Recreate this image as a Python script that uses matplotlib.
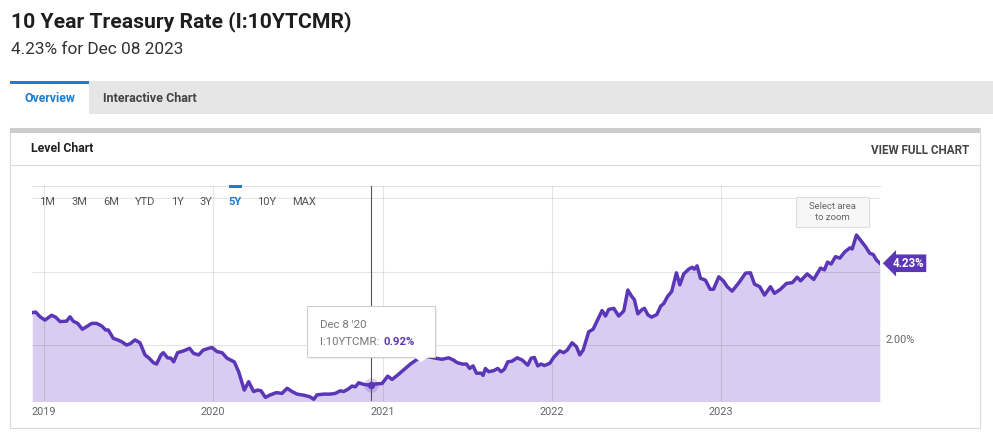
import matplotlib.pyplot as plt
import matplotlib.patches as mpatches
import numpy as np
import pandas as pd

plt.rcParams['font.family'] = ['Roboto', 'DejaVu Sans']

W, H = 993, 442

# 10 year treasury rate (%); time as decimal years
years = [2018.933, 2018.953, 2018.979, 2019.008, 2019.047, 2019.071, 2019.097, 2019.136,
         2019.156, 2019.175, 2019.201, 2019.229, 2019.254, 2019.284, 2019.313, 2019.343,
         2019.366, 2019.382, 2019.412, 2019.437, 2019.461, 2019.490, 2019.510, 2019.540,
         2019.569, 2019.599, 2019.623, 2019.648, 2019.667, 2019.693, 2019.707, 2019.732,
         2019.752, 2019.768, 2019.791, 2019.827, 2019.862, 2019.886, 2019.916, 2019.942,
         2019.975, 2019.995, 2020.024, 2020.054, 2020.083, 2020.126, 2020.152, 2020.185,
         2020.211, 2020.240, 2020.264, 2020.284, 2020.310, 2020.339, 2020.374, 2020.408,
         2020.438, 2020.467, 2020.497, 2020.536, 2020.571, 2020.595, 2020.615, 2020.654,
         2020.693, 2020.723, 2020.752, 2020.772, 2020.796, 2020.822, 2020.841, 2020.861,
         2020.887, 2020.914, 2020.937, 2020.969, 2020.999, 2021.032, 2021.058, 2021.091,
         2021.131, 2021.166, 2021.206, 2021.255, 2021.314, 2021.353, 2021.392, 2021.420,
         2021.442, 2021.471, 2021.497, 2021.516, 2021.536, 2021.556, 2021.584, 2021.595,
         2021.609, 2021.628, 2021.658, 2021.682, 2021.702, 2021.721, 2021.741, 2021.767,
         2021.796, 2021.826, 2021.859, 2021.879, 2021.898, 2021.918, 2021.938, 2021.957,
         2021.989, 2022.012, 2022.048, 2022.071, 2022.092, 2022.121, 2022.147, 2022.166,
         2022.186, 2022.219, 2022.245, 2022.271, 2022.298, 2022.318, 2022.337, 2022.367,
         2022.396, 2022.426, 2022.450, 2022.468, 2022.489, 2022.509, 2022.535, 2022.548,
         2022.569, 2022.590, 2022.621, 2022.644, 2022.662, 2022.684, 2022.709, 2022.737,
         2022.757, 2022.780, 2022.810, 2022.830, 2022.843, 2022.859, 2022.879, 2022.908,
         2022.936, 2022.956, 2022.987, 2023.014, 2023.037, 2023.066, 2023.109, 2023.145,
         2023.174, 2023.198, 2023.229, 2023.257, 2023.292, 2023.316, 2023.351, 2023.387,
         2023.421, 2023.450, 2023.470, 2023.509, 2023.548, 2023.588, 2023.611, 2023.629,
         2023.651, 2023.676, 2023.702, 2023.729, 2023.761, 2023.775, 2023.800, 2023.824,
         2023.854, 2023.879, 2023.899, 2023.918, 2023.938]
rates = [2.88, 2.90, 2.77, 2.68, 2.81, 2.76, 2.64, 2.65,
         2.77, 2.65, 2.59, 2.43, 2.50, 2.59, 2.59, 2.52,
         2.41, 2.41, 2.18, 2.14, 2.09, 2.00, 2.03, 2.14,
         2.06, 1.73, 1.64, 1.52, 1.48, 1.73, 1.79, 1.65,
         1.64, 1.54, 1.79, 1.84, 1.91, 1.77, 1.73, 1.86,
         1.91, 1.93, 1.82, 1.79, 1.64, 1.54, 1.27, 0.77,
         1.00, 0.73, 0.77, 0.75, 0.57, 0.64, 0.70, 0.68,
         0.82, 0.73, 0.66, 0.63, 0.59, 0.52, 0.64, 0.66,
         0.66, 0.68, 0.75, 0.73, 0.79, 0.88, 0.86, 0.97,
         0.93, 0.91, 0.92, 0.94, 0.95, 1.15, 1.06, 1.18,
         1.34, 1.48, 1.61, 1.70, 1.64, 1.61, 1.65, 1.59,
         1.52, 1.48, 1.48, 1.36, 1.43, 1.23, 1.23, 1.17,
         1.36, 1.27, 1.30, 1.36, 1.27, 1.34, 1.54, 1.56,
         1.65, 1.59, 1.45, 1.64, 1.66, 1.43, 1.48, 1.44,
         1.50, 1.66, 1.84, 1.79, 1.86, 2.06, 1.95, 1.73,
         1.86, 2.36, 2.43, 2.68, 2.94, 2.79, 2.97, 3.00,
         2.79, 2.93, 3.50, 3.36, 3.23, 2.85, 2.97, 3.00,
         2.82, 2.76, 2.83, 3.06, 3.13, 3.32, 3.46, 3.97,
         3.64, 3.94, 4.07, 4.12, 4.07, 4.16, 3.82, 3.77,
         3.52, 3.52, 3.86, 3.75, 3.59, 3.47, 3.72, 3.96,
         3.97, 3.66, 3.59, 3.36, 3.59, 3.41, 3.52, 3.68,
         3.70, 3.85, 3.75, 3.94, 3.79, 4.10, 4.05, 4.26,
         4.21, 4.41, 4.37, 4.53, 4.65, 4.62, 5.00, 4.86,
         4.68, 4.50, 4.47, 4.32, 4.23]

year_ticks = [2019, 2020, 2021, 2022, 2023]
grid_rates = [2, 4, 6]
rate_labels = ['2.00%', '', '']
hover_date = '2020-12-08'
hover_rate = 0.92
last_rate = 4.23
ranges = ['1M', '3M', '6M', 'YTD', '1Y', '3Y', '5Y', '10Y', 'MAX']
active_range = '5Y'

LINE = '#5b37b7'
FILL = '#d8cdf0'
BLUE = '#1f7ccf'


def to_dates(yrs):
    yrs = np.asarray(yrs, dtype=float)
    return pd.Timestamp('2019-01-01') + pd.to_timedelta((yrs - 2019) * 365.25, unit='D')


dates = to_dates(years)

fig = plt.figure(figsize=(W / 100, H / 100), dpi=100)

# page furniture in pixel coordinates
bg = fig.add_axes([0, 0, 1, 1])
bg.set_xlim(0, W)
bg.set_ylim(H, 0)
bg.axis('off')

bg.text(11, 22, '10 Year Treasury Rate (I:10YTCMR)', fontsize=15.2, fontweight='bold',
        color='#1e1e1e', va='center', ha='left')
bg.text(11, 50, '4.23% for Dec 08 2023', fontsize=12.4, color='#333333', va='center', ha='left')

bg.add_patch(mpatches.Rectangle((10, 81), W - 10, 33, fc='#e6e6e6', ec='none'))
bg.add_patch(mpatches.Rectangle((10, 84), 79, 30, fc='white', ec='none'))
bg.add_patch(mpatches.Rectangle((10, 81), 79, 3, fc=BLUE, ec='none'))
bg.text(49.5, 98, 'Overview', fontsize=8.8, fontweight='bold', color=BLUE, ha='center', va='center')
bg.text(103, 98, 'Interactive Chart', fontsize=9, fontweight='bold', color='#444444',
        ha='left', va='center')

bg.add_patch(mpatches.Rectangle((10, 128), 970, 300, fc='white', ec='#d9d9d9', lw=0.8))
bg.add_patch(mpatches.Rectangle((10, 128), 970, 5, fc='#cccccc', ec='none'))
bg.plot([10, 980], [165, 165], color='#d9d9d9', lw=0.8)
bg.text(31, 149, 'Level Chart', fontsize=8.8, fontweight='bold', color='#222222', ha='left', va='center')
bg.text(969, 151, 'VIEW FULL CHART', fontsize=8.4, fontweight='bold', color='#444444',
        ha='right', va='center')

# chart area
L, R, T, B = 32, 880, 186, 401
ax = fig.add_axes([L / W, 1 - B / H, (R - L) / W, (B - T) / H])
ax.set_facecolor('none')
ax.fill_between(dates, rates, 0, color=FILL, lw=0, zorder=1)
ax.plot(dates, rates, color=LINE, lw=2.5, solid_joinstyle='round', zorder=4)

ax.set_xlim(pd.Timestamp('2018-12-07'), pd.Timestamp('2023-12-10'))
ax.set_ylim(0.472, 6.338)

tick_dates = [pd.Timestamp(f'{y}-01-01') for y in year_ticks]
ax.set_xticks(tick_dates)
ax.set_xticklabels([str(y) for y in year_ticks])
ax.set_yticks(grid_rates)
ax.set_yticklabels(rate_labels)
ax.yaxis.tick_right()
ax.tick_params(axis='both', length=0, labelsize=7.8, labelcolor='#666666')
ax.tick_params(axis='x', pad=4)
ax.tick_params(axis='y', pad=4)
for lbl in ax.get_yticklabels():
    lbl.set_va('bottom')
ax.grid(True, color='black', alpha=0.1, lw=0.8, zorder=2)
ax.set_axisbelow(False)
for side in ['left', 'right', 'bottom']:
    ax.spines[side].set_visible(False)
ax.spines['top'].set_color('#e2e2e2')
ax.spines['top'].set_linewidth(0.8)

hd = pd.Timestamp(hover_date)
ax.axvline(hd, color='#555555', lw=0.8, zorder=3)
ax.scatter([hd], [hover_rate], s=110, color=LINE, alpha=0.22, lw=0, zorder=5)
ax.scatter([hd], [hover_rate], s=28, color=LINE, lw=0, zorder=6)

ax.annotate(f'{last_rate:.2f}%', xy=(dates[-1], last_rate), xytext=(9, 0),
            textcoords='offset points', ha='left', va='center', fontsize=8.3,
            fontweight='bold', color='white', annotation_clip=False, zorder=7,
            bbox=dict(boxstyle='larrow,pad=0.2', fc=LINE, ec='none'))

# overlay: range buttons, zoom hint, tooltip
ov = fig.add_axes([0, 0, 1, 1])
ov.set_xlim(0, W)
ov.set_ylim(H, 0)
ov.axis('off')

btn_x = [47, 79, 111, 145, 177, 206, 235, 267, 304]
for name, bx in zip(ranges, btn_x):
    active = name == active_range
    ov.text(bx, 202, name, fontsize=8, ha='center', va='center',
            color=BLUE if active else '#555555', fontweight='bold' if active else 'normal')
    if active:
        ov.add_patch(mpatches.Rectangle((bx - 6.5, 185), 13, 3, fc=BLUE, ec='none'))

ov.add_patch(mpatches.Rectangle((796, 197), 73, 30, fc='#f7f7f7', ec='#dddddd', lw=0.8))
ov.text(832.5, 212, 'Select area\nto zoom', fontsize=6.8, color='#666666', ha='center',
        va='center', linespacing=1.3)

ov.add_patch(mpatches.Rectangle((309, 308), 128, 51, fc='black', ec='none', alpha=0.06))
ov.add_patch(mpatches.Rectangle((307, 306), 128, 51, fc='white', ec='#cfcfcf', lw=0.8))
ov.add_patch(mpatches.Polygon([[414, 357], [428, 357], [421, 362]], closed=True,
                              fc='white', ec='none'))
ov.text(320, 325, "Dec 8 '20", fontsize=8.2, color='#777777', ha='left', va='center')
ov.text(320, 342, 'I:10YTCMR:', fontsize=8.2, color='#777777', ha='left', va='center')
ov.text(384, 342, f'{hover_rate:.2f}%', fontsize=8.2, color=LINE, fontweight='bold',
        ha='left', va='center')

fig.savefig('out.png', dpi=100)
